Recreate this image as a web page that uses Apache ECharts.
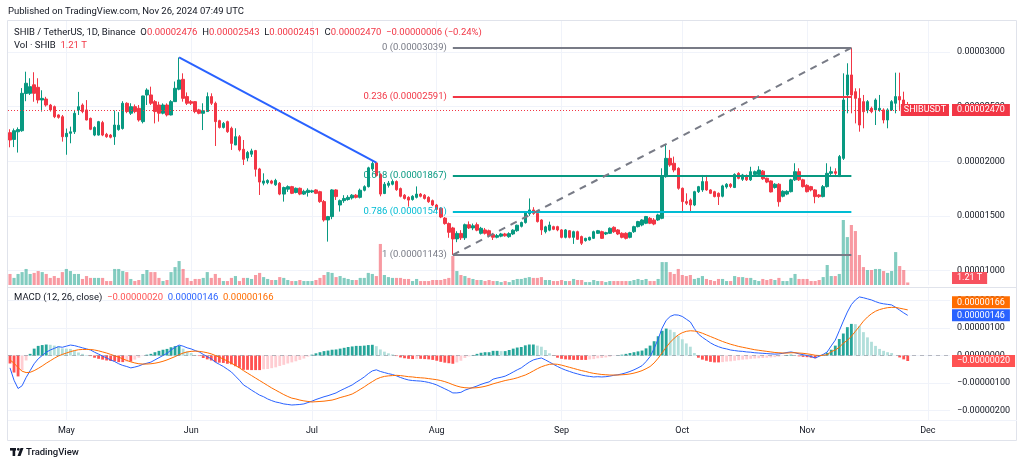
<!DOCTYPE html>
<html><head><meta charset="utf-8">
<script src="https://cdn.jsdelivr.net/npm/echarts@6/dist/echarts.min.js"></script>
<style>html,body{margin:0;padding:0;background:#fff}#c{width:1024px;height:466px}</style>
</head><body><div id="c"></div>
<script>
// ---- data (prices in units of 1e-8 USDT) ----
const START_Y = 2024, START_M = 3, START_D = 17; // 2024-04-17
const N_CATS = 234; // through 2024-12-06 (empty right margin)
const MONTHS = ['Jan','Feb','Mar','Apr','May','Jun','Jul','Aug','Sep','Oct','Nov','Dec'];
// [open, high, low, close]
const OHLC = [
[2262,2293,2128,2195],[2200,2300,2130,2280],[2270,2310,2080,2290],[2280,2670,2270,2622],[2620,2820,2550,2714],
[2622,2760,2607,2683],[2700,2815,2545,2622],[2677,2760,2530,2561],[2561,2650,2455,2576],[2570,2590,2500,2515],
[2515,2525,2455,2470],[2500,2510,2395,2408],[2424,2430,2390,2402],[2408,2424,2180,2225],[2225,2300,2060,2256],
[2256,2317,2165,2270],[2270,2470,2250,2439],[2470,2635,2424,2500],[2515,2530,2440,2455],[2470,2560,2375,2378],
[2393,2400,2285,2293],[2240,2320,2230,2310],[2240,2370,2235,2363],[2354,2370,2230,2240],[2247,2260,2215,2225],
[2240,2250,2210,2220],[2225,2465,2150,2332],[2290,2450,2280,2330],[2300,2550,2290,2531],[2531,2540,2440,2455],
[2440,2531,2424,2500],[2500,2520,2440,2455],[2485,2515,2363,2378],[2363,2600,2347,2598],[2607,2668,2515,2652],
[2607,2683,2515,2531],[2546,2560,2347,2455],[2515,2545,2363,2440],[2440,2530,2430,2515],[2515,2530,2410,2424],
[2424,2560,2420,2546],[2546,2730,2546,2668],[2660,2950,2650,2744],[2750,2805,2546,2576],[2592,2630,2515,2531],
[2546,2560,2515,2531],[2546,2550,2440,2455],[2470,2480,2430,2439],[2439,2531,2286,2463],[2455,2630,2455,2592],
[2592,2622,2515,2531],[2531,2546,2140,2363],[2372,2380,2300,2310],[2310,2360,2300,2347],[2363,2372,2260,2271],
[2302,2317,2104,2164],[2149,2302,2149,2225],[2225,2240,2090,2104],[2110,2195,1966,2018],[2030,2095,2000,2080],
[2065,2115,2040,2095],[2098,2104,1860,1927],[1930,1940,1692,1810],[1800,1890,1780,1820],[1805,1835,1790,1825],
[1820,1830,1790,1800],[1785,1840,1775,1825],[1800,1810,1690,1700],[1700,1768,1631,1760],[1745,1780,1720,1768],
[1768,1775,1700,1707],[1715,1760,1707,1753],[1753,1760,1690,1700],[1700,1740,1692,1725],[1715,1753,1677,1735],
[1720,1740,1710,1730],[1738,1745,1700,1707],[1722,1730,1620,1631],[1631,1646,1448,1463],[1463,1500,1265,1494],
[1494,1745,1470,1738],[1738,1745,1646,1677],[1600,1650,1540,1640],[1640,1690,1620,1660],[1650,1690,1640,1670],
[1665,1700,1650,1690],[1690,1700,1660,1670],[1670,1750,1660,1735],[1735,1780,1725,1768],[1768,1950,1760,1940],
[1930,2000,1910,1980],[1985,1990,1860,1870],[1880,1890,1680,1700],[1705,1810,1700,1790],[1780,1820,1760,1800],
[1790,1830,1780,1815],[1815,1825,1730,1740],[1750,1760,1670,1680],[1690,1700,1650,1660],[1670,1680,1585,1645],
[1650,1690,1640,1680],[1670,1770,1660,1700],[1700,1710,1670,1680],[1690,1700,1650,1660],[1670,1680,1620,1630],
[1640,1650,1590,1600],[1600,1610,1550,1560],[1570,1580,1480,1490],[1480,1490,1420,1430],[1430,1440,1300,1350],
[1390,1400,1143,1290],[1290,1360,1260,1340],[1340,1370,1280,1300],[1300,1430,1280,1420],[1420,1450,1380,1390],
[1390,1430,1370,1410],[1420,1440,1360,1370],[1341,1400,1330,1387],[1372,1390,1330,1341],[1365,1375,1305,1320],
[1330,1345,1280,1305],[1305,1335,1295,1320],[1315,1345,1305,1335],[1335,1345,1310,1318],[1310,1350,1300,1338],
[1335,1378,1325,1370],[1365,1420,1355,1415],[1405,1448,1395,1440],[1439,1545,1430,1540],[1520,1660,1500,1555],
[1555,1580,1510,1524],[1524,1535,1440,1448],[1463,1470,1326,1372],[1356,1410,1340,1400],[1370,1448,1360,1417],
[1402,1410,1370,1378],[1402,1410,1360,1372],[1372,1380,1295,1304],[1304,1380,1295,1372],[1365,1370,1295,1304],
[1304,1365,1244,1356],[1356,1365,1280,1286],[1311,1320,1234,1250],[1274,1300,1265,1295],[1280,1310,1275,1304],
[1295,1365,1290,1356],[1341,1372,1335,1365],[1356,1365,1290,1295],[1335,1355,1325,1347],[1341,1395,1335,1387],
[1396,1405,1345,1356],[1372,1380,1325,1335],[1341,1350,1295,1304],[1341,1350,1285,1295],[1304,1355,1295,1347],
[1356,1410,1345,1402],[1402,1455,1395,1448],[1417,1470,1405,1463],[1433,1500,1425,1494],[1478,1490,1425,1433],
[1463,1480,1415,1426],[1463,1520,1455,1509],[1478,1936,1470,1860],[1860,2149,1850,2027],[2027,2104,1950,1966],
[1982,2043,1900,1920],[1936,1945,1740,1753],[1753,1760,1539,1631],[1631,1707,1600,1616],[1646,1660,1539,1600],
[1600,1730,1590,1722],[1722,1775,1710,1768],[1738,1875,1720,1814],[1814,1875,1730,1738],[1738,1745,1700,1707],
[1722,1730,1670,1677],[1707,1715,1600,1677],[1680,1785,1670,1775],[1765,1800,1750,1790],[1790,1800,1755,1770],
[1760,1890,1755,1880],[1890,1900,1835,1844],[1835,1885,1820,1875],[1870,1880,1820,1830],[1830,1950,1820,1905],
[1880,1915,1870,1905],[1880,1955,1875,1920],[1910,1920,1830,1840],[1845,1850,1800,1810],[1820,1825,1715,1720],
[1760,1800,1750,1790],[1790,1800,1585,1630],[1680,1735,1670,1725],[1700,1735,1690,1725],[1722,1840,1715,1830],
[1830,1982,1820,1905],[1905,1936,1820,1830],[1830,1840,1760,1768],[1780,1790,1715,1722],[1768,1775,1725,1738],
[1738,1745,1616,1677],[1692,1700,1665,1677],[1677,1783,1670,1768],[1768,1982,1760,1890],[1890,1951,1860,1905],
[1905,1936,1860,1890],[1860,2058,1860,2043],[2027,2805,2012,2561],[2607,2897,2439,2790],[2790,3039,2439,2607],
[2637,2668,2347,2576],[2576,2668,2271,2332],[2546,2607,2302,2454],[2470,2560,2440,2546],[2485,2500,2440,2454],
[2470,2576,2332,2561],[2470,2607,2454,2485],[2470,2485,2347,2378],[2378,2485,2302,2470],[2470,2560,2460,2546],
[2531,2811,2439,2592],[2592,2811,2470,2561],[2561,2637,2439,2476],[2476,2543,2451,2470]
];
// volume, trillions of SHIB
const VOLUME = [
5.3,3.4,5.3,6.2,7.7,5.3,5.8,6.7,6.2,5.3, 3.4,4.3,3.4,6.2,7.7,6.7,5.3,5.3,2.9,4.3,
3.4,3.4,3.4,3.4,1.9,1.9,7.7,7.7,6.7,6.2, 2.9,1.9,2.4,5.3,7.2,6.2,6.2,3.4,1.9,2.4,
6.2,8.6,11.5,7.7,3.4,1.9,2.9,2.9,3.4,6.2, 3.4,5.3,3.4,1.9,1.9,3.4,4.3,1.9,3.4,3.4,
2.9,4.8,5.8,3.8,2.9,2.4,2.4,3.8,3.4,2.4, 1.9,1.9,2.4,1.9,1.9,1.9,2.4,3.4,4.8,6.2,
5.8,3.8,4.3,3.4,2.9,2.4,2.4,3.4,3.4,5.8, 5.3,4.3,19.7,4.8,3.8,3.4,3.4,3.4,2.9,2.9,
1.9,2.9,1.9,1.9,1.9,2.4,2.4,2.4,2.9,3.4, 13.9,6.7,4.8,4.3,3.4,2.9,2.4,2.4,1.9,2.4,
1.9,1.9,1.4,1.9,1.4,2.4,2.9,2.9,3.4,3.8, 3.4,3.4,3.8,2.4,2.4,1.9,1.9,2.4,1.9,1.9,
2.9,2.4,2.4,1.4,1.4,2.4,1.9,1.9,1.4,1.9, 1.9,1.9,1.9,1.9,1.9,2.4,2.9,2.4,2.9,1.9,
1.9,2.9,11.0,11.0,6.2,5.3,7.7,4.8,4.3,4.8, 2.9,3.4,4.3,2.9,2.4,1.9,2.9,2.9,1.9,1.9,
4.3,3.8,3.8,3.4,3.4,2.4,1.9,2.9,2.4,2.9, 2.4,3.4,1.9,1.9,3.4,5.3,2.9,2.9,2.9,1.9,
1.9,2.4,3.8,9.6,4.3,4.3,5.3,31.2,23.0,28.8, 25.9,14.4,8.6,7.2,7.2,7.7,7.7,6.7,5.8,6.7,
15.8,9.1,7.2,1.21
];
// MACD (12, 26, close), units of 1e-8
const MACD_LINE = [
-45,-90,-120,-110,-80,-55,-30,-12,0,12, 20,26,32,30,34,38,36,32,28,24,
20,12,5,-2,-9,-16,-22,-30,-36,-40, -45,-42,-38,-32,-28,-24,-16,-8,0,8,
20,30,38,34,28,24,18,13,4,-4, -12,-24,-32,-40,-50,-60,-75,-90,-107,-116,
-126,-135,-144,-150,-158,-164,-169,-172,-176,-178, -180,-179,-178,-176,-171,-166,-160,-155,-150,-146,
-141,-136,-128,-121,-114,-107,-97,-88,-78,-66, -56,-52,-58,-62,-66,-69,-74,-80,-85,-89,
-91,-92,-93,-95,-98,-102,-107,-114,-121,-128, -136,-136,-134,-126,-121,-116,-111,-105,-100,-96,
-86,-82,-79,-75,-68,-60,-52,-45,-34,-24, -16,-12,-9,-16,-24,-32,-40,-47,-53,-58,
-63,-67,-71,-74,-76,-78,-77,-78,-77,-75, -72,-70,-67,-63,-58,-52,-45,-37,-22,-4,
25,60,100,128,142,148,147,142,132,122, 98,78,66,56,46,38,32,27,24,20,
18,16,15,13,12,10,9,8,7,6, 5,6,8,11,13,10,6,3,0,-4,
-9,-3,4,13,35,56,90,125,158,185, 202,213,210,206,202,196,191,188,186,184,
175,165,155,146
];
const SIGNAL_LINE = [
-16,-28,-44,-57,-62,-61,-55,-47,-38,-28, -19,-10,-2,4,9,14,18,21,22,22,
22,20,17,13,9,4,-1,-6,-12,-18, -23,-27,-30,-31,-31,-30,-28,-25,-21,-16,
-10,-4,3,9,13,15,16,15,13,10, 6,0,-6,-13,-20,-28,-36,-45,-55,-64,
-73,-82,-91,-100,-109,-118,-126,-134,-142,-149, -155,-158,-162,-165,-167,-169,-168,-167,-166,-164,
-162,-158,-153,-149,-145,-140,-132,-123,-114,-104, -95,-86,-80,-76,-74,-73,-72,-73,-75,-77,
-78,-80,-81,-82,-84,-86,-88,-91,-95,-100, -106,-111,-115,-117,-118,-118,-117,-115,-112,-108,
-103,-99,-95,-91,-88,-85,-81,-76,-71,-64, -56,-48,-41,-36,-32,-31,-32,-35,-39,-43,
-47,-51,-55,-58,-62,-65,-67,-69,-70,-71, -71,-71,-70,-69,-67,-64,-60,-55,-48,-40,
-27,-10,10,30,48,63,75,83,88,90, 89,86,81,75,69,63,57,51,46,41,
37,33,30,27,24,21,19,17,15,13, 11,10,9,9,10,10,9,8,6,4,
1,0,1,3,14,20,30,45,55,70, 88,106,125,140,152,161,167,171,174,175,
175,172,169,166
];
const HISTOGRAM = [
-29,-62,-76,-53,-18,6,25,35,38,40, 39,36,34,26,25,24,18,11,6,2,
-2,-8,-12,-15,-18,-20,-21,-24,-24,-22, -22,-15,-8,-1,3,6,12,17,21,24,
30,34,35,25,15,9,2,-2,-9,-14, -18,-24,-26,-27,-30,-32,-39,-45,-52,-52,
-53,-53,-53,-50,-49,-46,-43,-38,-34,-29, -25,-21,-16,-11,-4,3,8,12,16,18,
21,22,25,28,31,33,35,35,36,38, 39,34,22,14,8,4,-2,-7,-10,-12,
-13,-12,-12,-13,-14,-16,-19,-23,-26,-28, -30,-25,-19,-9,-3,2,6,10,12,12,
17,17,16,16,20,25,29,31,37,40, 40,36,32,20,8,-1,-8,-12,-14,-15,
-16,-16,-16,-16,-14,-13,-10,-9,-7,-4, -1,1,3,6,9,12,15,18,26,36,
52,70,90,98,94,85,72,59,44,32, 9,-8,-15,-19,-23,-25,-25,-24,-22,-21,
-19,-17,-15,-14,-12,-11,-10,-9,-8,-7, -6,-4,-1,2,3,0,-3,-5,-6,-8,
-10,-3,3,10,21,36,60,80,103,115, 114,107,85,66,50,35,24,17,12,9,
0,-7,-14,-20
];
const PRICE_TICKS = [1000, 1500, 2000, 2500, 3000];
const MACD_TICKS = [-200, -100, 0, 100, 200];
const FIB_LEVELS = ['0', '0.236', '0.618', '0.786', '1'];
const FIB_PRICES = [3039, 2591, 1867, 1541, 1143];
const FIB_COLORS = ['#787B86', '#F23645', '#089981', '#00BCD4', '#787B86'];
const FIB_START = '2024-08-05', FIB_END = '2024-11-12';
const TREND = [['2024-05-29', 2950], ['2024-07-17', 1988]];

// ---- helpers ----
const FONT = 'Roboto, "Liberation Sans", sans-serif';
const TXT = '#131722';
const UP = '#089981', DOWN = '#F23645';
const fmt = v => (v / 1e8).toFixed(8).replace('-', '\u2212');
const dates = [];
for (let i = 0; i < N_CATS; i++) {
  dates.push(new Date(Date.UTC(START_Y, START_M, START_D + i)).toISOString().slice(0, 10));
}
const isMonthStart = (idx, val) => val.slice(8) === '01';
const candleData = OHLC.map(r => [r[0], r[3], r[2], r[1]]);
const volData = VOLUME.map((v, i) => ({
  value: v,
  itemStyle: { color: OHLC[i][3] >= OHLC[i][0] ? 'rgba(8,153,129,0.5)' : 'rgba(242,54,69,0.5)' }
}));
const histData = HISTOGRAM.map((h, i) => {
  const p = i > 0 ? HISTOGRAM[i - 1] : h;
  const c = h >= 0 ? (h >= p ? '#26A69A' : '#B2DFDB') : (h <= p ? '#FF5252' : '#FFCDD2');
  return { value: h, itemStyle: { color: c } };
});
const last = OHLC[OHLC.length - 1];
const prevClose = OHLC[OHLC.length - 2][3];
const chg = last[3] - prevClose;
const pct = (chg / prevClose * 100).toFixed(2).replace('-', '\u2212');

const fibLines = FIB_PRICES.map((p, k) => [
  { coord: [FIB_START, p], lineStyle: { color: FIB_COLORS[k], width: 2, type: 'solid' },
    label: { show: true, position: 'start', distance: 6, formatter: FIB_LEVELS[k] + ' (' + fmt(p) + ')',
             color: FIB_COLORS[k], fontSize: 9.5, fontFamily: FONT } },
  { coord: [FIB_END, p] }
]);

const gridStyle = { color: '#f0f3fa', width: 1 };
const axisText = { color: TXT, fontSize: 9, fontFamily: FONT };

const chart = echarts.init(document.getElementById('c'));
chart.setOption({
  animation: false,
  backgroundColor: '#ffffff',
  grid: [
    { left: 8, right: 74, top: 20, bottom: 181 },
    { left: 8, right: 74, top: 185, bottom: 181 },
    { left: 8, right: 74, top: 288, bottom: 46 }
  ],
  xAxis: [
    { type: 'category', gridIndex: 0, data: dates, boundaryGap: true,
      axisLine: { show: false }, axisTick: { show: false }, axisLabel: { show: false },
      splitLine: { show: true, interval: isMonthStart, alignWithLabel: true, lineStyle: gridStyle } },
    { type: 'category', gridIndex: 1, data: dates, boundaryGap: true, show: false },
    { type: 'category', gridIndex: 2, data: dates, boundaryGap: true,
      axisLine: { show: false }, axisTick: { show: false },
      axisLabel: { show: true, interval: isMonthStart, margin: 6, ...axisText,
                   formatter: v => MONTHS[parseInt(v.slice(5, 7), 10) - 1] },
      splitLine: { show: true, interval: isMonthStart, alignWithLabel: true, lineStyle: gridStyle } }
  ],
  yAxis: [
    { type: 'value', gridIndex: 0, position: 'right', min: 868, max: 3293, scale: true,
      axisLine: { show: false }, axisTick: { show: false, customValues: PRICE_TICKS },
      axisLabel: { customValues: PRICE_TICKS, margin: 7, formatter: v => fmt(v), ...axisText },
      splitLine: { show: true, lineStyle: gridStyle } },
    { type: 'value', gridIndex: 1, min: 0, max: 48, show: false, splitLine: { show: false } },
    { type: 'value', gridIndex: 2, position: 'right', min: -234.5, max: 245.5,
      axisLine: { show: false }, axisTick: { show: false, customValues: MACD_TICKS },
      axisLabel: { customValues: MACD_TICKS, margin: 7, formatter: v => fmt(v), ...axisText },
      splitLine: { show: true, lineStyle: gridStyle } }
  ],
  series: [
    { type: 'bar', name: 'Vol', xAxisIndex: 1, yAxisIndex: 1, data: volData, barWidth: '78%', z: 1 },
    { type: 'candlestick', name: 'SHIBUSDT', xAxisIndex: 0, yAxisIndex: 0, data: candleData, barWidth: 3, z: 2,
      itemStyle: { color: UP, color0: DOWN, borderColor: UP, borderColor0: DOWN, borderWidth: 1 },
      markLine: {
        silent: true, symbol: ['none', 'none'], animation: false,
        data: [
          { yAxis: last[3], lineStyle: { color: DOWN, width: 1, type: [1, 2] }, label: { show: false } },
          ...fibLines,
          [ { coord: [FIB_START, FIB_PRICES[4]], lineStyle: { color: '#787B86', width: 2, type: [7, 6] }, label: { show: false } },
            { coord: [FIB_END, FIB_PRICES[0]] } ],
          [ { coord: TREND[0], lineStyle: { color: '#2962FF', width: 2, type: 'solid' }, label: { show: false } },
            { coord: TREND[1] } ]
        ]
      } },
    { type: 'bar', name: 'Histogram', xAxisIndex: 2, yAxisIndex: 2, data: histData, barWidth: '70%', z: 2,
      markLine: { silent: true, symbol: ['none', 'none'], animation: false,
        data: [ { yAxis: 0, lineStyle: { color: 'rgba(120,123,134,0.5)', width: 1, type: [4, 4] }, label: { show: false } } ] } },
    { type: 'line', name: 'MACD', xAxisIndex: 2, yAxisIndex: 2, data: MACD_LINE, showSymbol: false, z: 3,
      lineStyle: { color: '#2962FF', width: 1 } },
    { type: 'line', name: 'Signal', xAxisIndex: 2, yAxisIndex: 2, data: SIGNAL_LINE, showSymbol: false, z: 3,
      lineStyle: { color: '#FF6D00', width: 1 } }
  ]
});

// ---- overlay texts and value labels (positions from the library's scales) ----
const py = v => chart.convertToPixel({ yAxisIndex: 0 }, v);
const my = v => chart.convertToPixel({ yAxisIndex: 2 }, v);
const vy = v => chart.convertToPixel({ yAxisIndex: 1 }, v);
const plotRight = 950;
function box(text, y, bg, x, align, pad) {
  return { type: 'text', z: 100, style: { text, x: x || plotRight + 2, y, align: align || 'left', verticalAlign: 'middle',
    fill: '#fff', font: '9px ' + FONT, backgroundColor: bg, padding: pad || [2, 5, 1, 5] } };
}
const blueY = my(MACD_LINE[MACD_LINE.length - 1]);
const orangeY = Math.min(my(SIGNAL_LINE[SIGNAL_LINE.length - 1]), blueY - 13);
const volY = Math.min(vy(VOLUME[VOLUME.length - 1]), 285 - 7);
chart.setOption({ graphic: [
  { type: 'rect', shape: { x: 7.5, y: 20.5, width: 1009, height: 420 }, style: { fill: 'none', stroke: '#e0e3eb', lineWidth: 1 }, z: 50 },
  { type: 'line', shape: { x1: 8, y1: 287.5, x2: 1017, y2: 287.5 }, style: { stroke: '#e0e3eb', lineWidth: 1 }, z: 50 },
  { type: 'line', shape: { x1: 8, y1: 420.5, x2: 1017, y2: 420.5 }, style: { stroke: '#f0f3fa', lineWidth: 1 }, z: 50 },
  { type: 'text', style: { text: 'Published on TradingView.com, Nov 26, 2024 07:49 UTC', x: 8, y: 12, verticalAlign: 'middle', fill: TXT, font: '9.5px ' + FONT } },
  { type: 'text', z: 60, style: { x: 14, y: 33, verticalAlign: 'middle', font: '9.5px ' + FONT, fill: TXT,
      text: '{d|SHIB / TetherUS, 1D, Binance}  {d|O}{v|' + fmt(last[0]) + '}  {d|H}{v|' + fmt(last[1]) + '}  {d|L}{v|' + fmt(last[2]) +
            '}  {d|C}{v|' + fmt(last[3]) + '}  {v|' + fmt(chg) + ' (' + pct + '%)}',
      rich: { d: { fill: TXT, font: '9.5px ' + FONT }, v: { fill: DOWN, font: '9.5px ' + FONT } } } },
  { type: 'text', z: 60, style: { x: 14, y: 45.5, verticalAlign: 'middle', font: '9.5px ' + FONT, fill: TXT,
      text: '{d|Vol · SHIB}  {v|' + VOLUME[VOLUME.length - 1].toFixed(2) + ' T}',
      rich: { d: { fill: TXT, font: '9.5px ' + FONT }, v: { fill: DOWN, font: '9.5px ' + FONT } } } },
  { type: 'text', z: 60, style: { x: 14, y: 297.5, verticalAlign: 'middle', font: '9.5px ' + FONT, fill: TXT,
      text: '{d|MACD (12, 26, close)}  {v|' + fmt(HISTOGRAM[HISTOGRAM.length - 1]) + '}  {b|' + fmt(MACD_LINE[MACD_LINE.length - 1]) +
            '}  {o|' + fmt(SIGNAL_LINE[SIGNAL_LINE.length - 1]) + '}',
      rich: { d: { fill: TXT, font: '9.5px ' + FONT }, v: { fill: '#FF5252', font: '9.5px ' + FONT },
              b: { fill: '#2962FF', font: '9.5px ' + FONT }, o: { fill: '#FF6D00', font: '9.5px ' + FONT } } } },
  box(fmt(last[3]), py(last[3]), DOWN),
  box('SHIBUSDT', py(last[3]), DOWN, plotRight - 1, 'right', [2, 3, 1, 3]),
  box(VOLUME[VOLUME.length - 1].toFixed(2) + ' T', volY, '#F7525F'),
  box(fmt(SIGNAL_LINE[SIGNAL_LINE.length - 1]), orangeY, '#FF6D00'),
  box(fmt(MACD_LINE[MACD_LINE.length - 1]), blueY, '#2962FF'),
  box(fmt(HISTOGRAM[HISTOGRAM.length - 1]), my(HISTOGRAM[HISTOGRAM.length - 1]), '#FF5252'),
  // TradingView logo mark
  { type: 'rect', shape: { x: 10, y: 448, width: 6, height: 2.6 }, style: { fill: TXT } },
  { type: 'rect', shape: { x: 12.6, y: 448, width: 2.6, height: 8 }, style: { fill: TXT } },
  { type: 'circle', shape: { cx: 18.3, cy: 449.3, r: 1.4 }, style: { fill: TXT } },
  { type: 'polygon', shape: { points: [[20.5, 448], [23.5, 448], [20.5, 456], [17.5, 456]] }, style: { fill: TXT } },
  { type: 'text', style: { text: 'TradingView', x: 26, y: 452.5, verticalAlign: 'middle', fill: TXT, font: '500 9.5px ' + FONT } }
] });
</script>
</body></html>
